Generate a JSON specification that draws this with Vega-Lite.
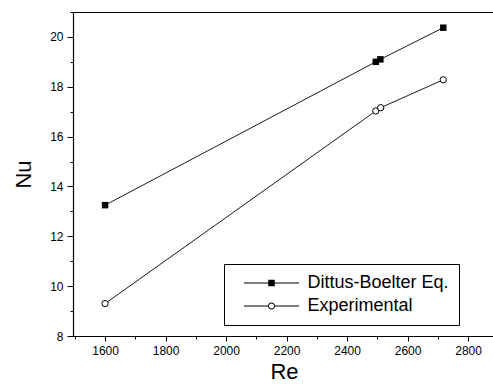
{
  "$schema": "https://vega.github.io/schema/vega-lite/v6.json",
  "autosize": {"type": "none"},
  "padding": {"left": 73, "top": 12, "right": 0, "bottom": 53},
  "width": 422,
  "height": 324,
  "background": "white",
  "config": {
    "view": {"stroke": "black", "strokeWidth": 1},
    "font": "Liberation Sans",
    "axis": {
      "grid": false,
      "domainColor": "black",
      "domainWidth": 1.2,
      "tickColor": "black",
      "labelColor": "black",
      "labelFont": "Liberation Sans",
      "labelFontSize": 12,
      "titleFont": "Liberation Sans",
      "titleFontSize": 22,
      "titleFontWeight": "normal",
      "titleColor": "black",
      "labelOverlap": false,
      "labelFlush": false
    }
  },
  "data": {
    "values": [
      {"series": "Dittus-Boelter Eq.", "Re": 1600, "Nu": 13.25},
      {"series": "Dittus-Boelter Eq.", "Re": 2495, "Nu": 19.0},
      {"series": "Dittus-Boelter Eq.", "Re": 2510, "Nu": 19.1},
      {"series": "Dittus-Boelter Eq.", "Re": 2718, "Nu": 20.37},
      {"series": "Experimental", "Re": 1600, "Nu": 9.3},
      {"series": "Experimental", "Re": 2495, "Nu": 17.03},
      {"series": "Experimental", "Re": 2511, "Nu": 17.16},
      {"series": "Experimental", "Re": 2718, "Nu": 18.28}
    ]
  },
  "encoding": {
    "x": {
      "field": "Re", "type": "quantitative",
      "scale": {"domain": [1494, 2889], "nice": false, "zero": false},
      "axis": {
        "title": "Re",
        "values": [1500, 1600, 1700, 1800, 1900, 2000, 2100, 2200, 2300, 2400, 2500, 2600, 2700, 2800],
        "format": "d",
        "labelExpr": "datum.value % 200 === 0 ? datum.label : ''",
        "tickSize": {"condition": {"test": "datum.value % 200 === 0", "value": 5}, "value": 3},
        "labelPadding": 4,
        "titlePadding": 5
      }
    },
    "y": {
      "field": "Nu", "type": "quantitative",
      "scale": {"domain": [8, 21], "nice": false, "zero": false},
      "axis": {
        "title": "Nu",
        "values": [8, 9, 10, 11, 12, 13, 14, 15, 16, 17, 18, 19, 20, 21],
        "labelExpr": "datum.value % 2 === 0 ? datum.label : ''",
        "tickSize": {"condition": {"test": "datum.value % 2 === 0", "value": 6}, "value": 3},
        "labelPadding": 4,
        "titlePadding": 14
      }
    }
  },
  "layer": [
    {
      "mark": {"type": "line", "color": "black", "strokeWidth": 0.9},
      "encoding": {"detail": {"field": "series"}}
    },
    {
      "transform": [{"filter": "datum.series === 'Dittus-Boelter Eq.'"}],
      "mark": {"type": "point", "shape": "square", "filled": true, "color": "black", "opacity": 1, "size": 42},
      "encoding": {}
    },
    {
      "transform": [{"filter": "datum.series === 'Experimental'"}],
      "mark": {"type": "point", "shape": "circle", "filled": false, "fill": "white", "stroke": "black", "strokeWidth": 1, "opacity": 1, "size": 40},
      "encoding": {}
    },
    {
      "mark": {"type": "point", "filled": true, "color": "black", "opacity": 0, "size": 40},
      "encoding": {
        "shape": {
          "field": "series", "type": "nominal",
          "scale": {
            "domain": ["Dittus-Boelter Eq.", "Experimental"],
            "range": [
              "M-5.5,-0.1H-0.65V0.1H-5.5ZM0.65,-0.1H5.5V0.1H0.65ZM-0.65,-0.65H0.65V0.65H-0.65Z",
              "M-5.5,-0.1H-0.7V0.1H-5.5ZM0.7,-0.1H5.5V0.1H0.7ZM0.7,0A0.7,0.7 0 1 1 -0.7,0A0.7,0.7 0 1 1 0.7,0ZM0.5,0A0.5,0.5 0 1 0 -0.5,0A0.5,0.5 0 1 0 0.5,0Z"
            ]
          },
          "legend": {
            "title": null,
            "orient": "none",
            "legendX": 151,
            "legendY": 252,
            "padding": 10,
            "strokeColor": "black",
            "fillColor": "white",
            "symbolSize": 100,
            "symbolOffset": 28.5,
            "labelOffset": 27,
            "labelFont": "Liberation Sans",
            "labelFontSize": 18,
            "labelColor": "black",
            "rowPadding": 5,
            "symbolFillColor": "black",
            "symbolStrokeColor": "transparent",
            "symbolStrokeWidth": 0,
            "symbolOpacity": 1
          }
        }
      }
    }
  ]
}
